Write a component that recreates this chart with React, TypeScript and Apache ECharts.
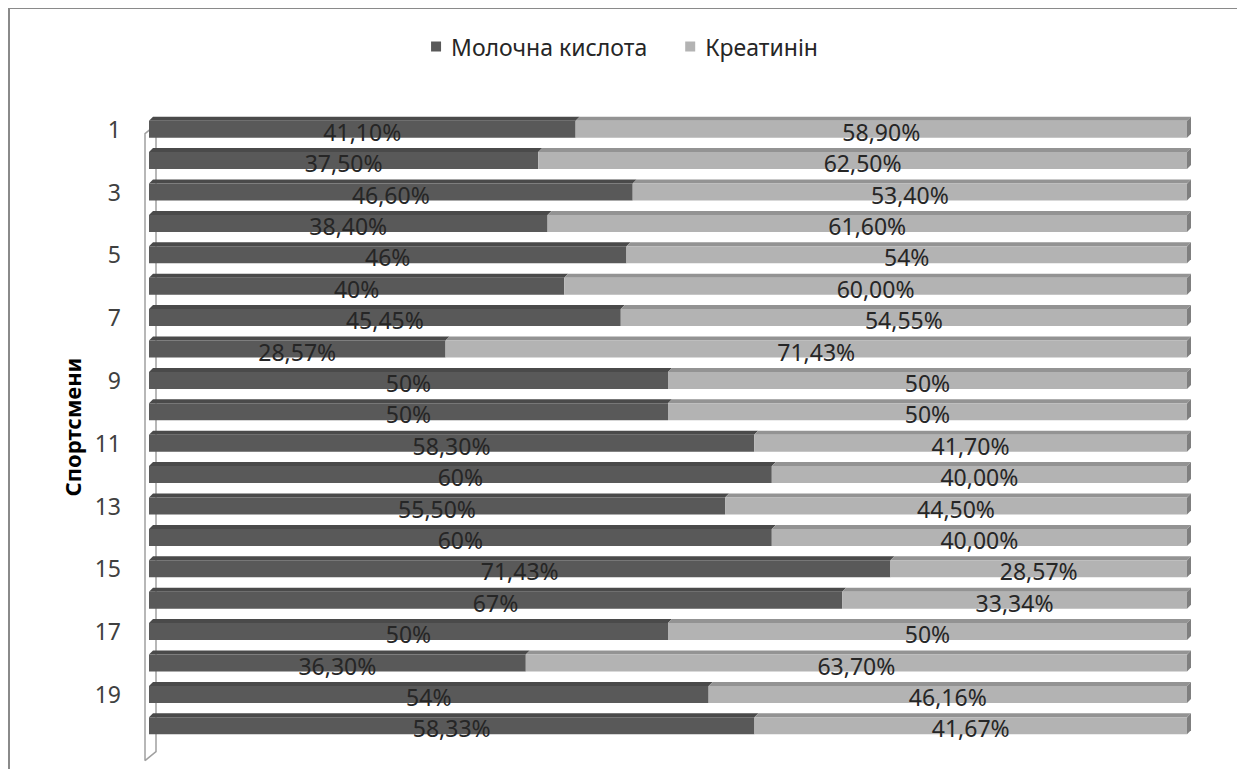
import React, { useEffect, useRef } from "react";
import * as echarts from "echarts";

const categories = ["1","2","3","4","5","6","7","8","9","10","11","12","13","14","15","16","17","18","19","20"];
const lacticValues = [41.1, 37.5, 46.6, 38.4, 46, 40, 45.45, 28.57, 50, 50, 58.3, 60, 55.5, 60, 71.43, 67, 50, 36.3, 54, 58.33];
const creatinineValues = [58.9, 62.5, 53.4, 61.6, 54, 60, 54.55, 71.43, 50, 50, 41.7, 40, 44.5, 40, 28.57, 33.34, 50, 63.7, 46.16, 41.67];
const lacticLabels = ["41,10%","37,50%","46,60%","38,40%","46%","40%","45,45%","28,57%","50%","50%","58,30%","60%","55,50%","60%","71,43%","67%","50%","36,30%","54%","58,33%"];
const creatinineLabels = ["58,90%","62,50%","53,40%","61,60%","54%","60,00%","54,55%","71,43%","50%","50%","41,70%","40,00%","44,50%","40,00%","28,57%","33,34%","50%","63,70%","46,16%","41,67%"];
const seriesNames = ["Молочна кислота", "Креатинін"];

const FONT = "'Noto Sans', sans-serif";

export default function App() {
  const ref = useRef<HTMLDivElement>(null);
  useEffect(() => {
    document.body.style.overflow = "hidden";
    if (!ref.current) return;
    const chart = echarts.init(ref.current, null, { renderer: "svg" });

    const lacticData = categories.map((_, i) => {
      const tot = lacticValues[i] + creatinineValues[i];
      const a = (lacticValues[i] / tot) * 100;
      return [0, a, i];
    });
    const creatData = categories.map((_, i) => {
      const tot = lacticValues[i] + creatinineValues[i];
      const a = (lacticValues[i] / tot) * 100;
      return [a, 100, i];
    });

    const makeRender = (labels: string[], front: string, top: string, side: string | null) => (params: any, api: any) => {
      const s = api.value(0);
      const e = api.value(1);
      const idx = api.value(2);
      const label = labels[params.dataIndex];
      const p0 = api.coord([s, idx]);
      const p1 = api.coord([e, idx]);
      const cy = p0[1];
      const x0 = p0[0];
      const x1 = p1[0];
      const d = 4;
      const children: any[] = [
        {
          type: "polygon",
          shape: { points: [[x0, cy - 8], [x1, cy - 8], [x1 + d, cy - 12], [x0 + d, cy - 12]] },
          style: { fill: top },
        },
        {
          type: "rect",
          shape: { x: x0, y: cy - 8, width: x1 - x0, height: 17 },
          style: { fill: front },
        },
      ];
      if (side) {
        children.push({
          type: "polygon",
          shape: { points: [[x1, cy - 8], [x1 + d, cy - 12], [x1 + d, cy + 5], [x1, cy + 9]] },
          style: { fill: side },
        });
      }
      children.push({
        type: "text",
        style: {
          text: label,
          x: (x0 + x1) / 2,
          y: cy + 3,
          align: "center",
          verticalAlign: "middle",
          fill: "#262626",
          font: `23px ${FONT}`,
        },
      });
      return { type: "group", children };
    };

    const wallRender = (params: any, api: any) => {
      const t = api.coord([0, -0.5]);
      const b = api.coord([0, categories.length - 0.5]);
      const xo = t[0] - 4;
      const xi = t[0] + 7;
      const top = t[1] - 4;
      const bot = b[1] + 4;
      const st = { stroke: "#a0a0a0", lineWidth: 1.5, fill: "none" };
      return {
        type: "group",
        children: [
          { type: "polyline", shape: { points: [[xo, bot], [xo, top + 9], [xi, top], [xi, bot - 9], [xo, bot]] }, style: st },
        ],
      };
    };

    chart.setOption({
      animation: false,
      backgroundColor: "#ffffff",
      legend: {
        data: seriesNames,
        top: 21,
        left: "center",
        icon: "rect",
        itemWidth: 10,
        itemHeight: 10,
        itemGap: 38,
        textStyle: { fontFamily: FONT, fontSize: 23, color: "#262626", padding: [0, 0, 0, 5] },
      },
      grid: { left: 139, right: 52, top: 104, height: 628 },
      xAxis: {
        type: "value",
        min: 0,
        max: 100,
        show: false,
      },
      yAxis: {
        type: "category",
        data: categories,
        inverse: true,
        axisLine: { show: false },
        axisTick: { show: false },
        axisLabel: {
          interval: 1,
          margin: 28,
          fontFamily: FONT,
          fontSize: 23,
          color: "#404040",
        },
        name: "Спортсмени",
        nameLocation: "middle",
        nameGap: 66,
        nameRotate: 90,
        nameTextStyle: { fontFamily: FONT, fontSize: 22, fontWeight: "bold", color: "#000000" },
      },
      series: [
        {
          type: "custom",
          name: "wall",
          data: [[0, 0, 0]],
          encode: { x: 0, y: 2 },
          renderItem: wallRender,
          z: 1,
          silent: true,
        },
        {
          type: "custom",
          name: seriesNames[0],
          data: lacticData,
          encode: { x: [0, 1], y: 2 },
          itemStyle: { color: "#595959" },
          renderItem: makeRender(lacticLabels, "#595959", "#4a4a4a", null),
          z: 2,
        },
        {
          type: "custom",
          name: seriesNames[1],
          data: creatData,
          encode: { x: [0, 1], y: 2 },
          itemStyle: { color: "#b3b3b3" },
          renderItem: makeRender(creatinineLabels, "#b3b3b3", "#939393", "#7f7f7f"),
          z: 2,
        },
      ],
    });
    return () => chart.dispose();
  }, []);

  return (
    <div
      style={{
        width: 1233,
        height: 762,
        borderTop: "2px solid #8a8a8a",
        borderLeft: "2px solid #8a8a8a",
        borderRight: "2px solid #8a8a8a",
        boxSizing: "border-box",
        marginTop: -1,
        overflow: "hidden",
      }}
    >
      <div ref={ref} style={{ width: 1229, height: 760 }} />
    </div>
  );
}
